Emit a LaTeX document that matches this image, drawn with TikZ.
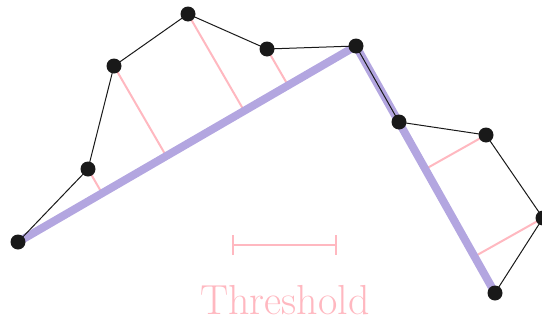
\documentclass[tikz,border=0pt]{standalone}
\usepackage{tikz}
\usetikzlibrary{calc, arrows.meta}
\definecolor{mypink}{HTML}{FFB8C0}
\definecolor{mypurple}{HTML}{B3A6E0}

\begin{document}
\begin{tikzpicture}[x=0.5pt, y=-0.5pt,
    dot/.style={circle, fill=black!90, inner sep=0pt, minimum size=7.5pt},
    edge/.style={black!90, line width=0.5pt},
    simple/.style={mypurple, line width=4pt},
    dist/.style={mypink, line width=1pt}]
      \useasboundingbox (0,0) rectangle (542,322);

      % polyline points
      \foreach \name/\x/\y in {p1/18/242, p2/88/169, p3/114/66, p4/188/14,
                               p5/267/49, p6/356/46, p7/399/122, p8/486/135,
                               p9/543/218, p10/495/293} {
        \coordinate (\name) at (\x,\y);
      }

      % distances to the simplified segments
      \foreach \p in {p2,p3,p4,p5} {
        \draw[dist] (\p) -- ($(p1)!(\p)!(p6)$);
      }
      \foreach \p in {p8,p9} {
        \draw[dist] (\p) -- ($(p6)!(\p)!(p10)$);
      }

      % simplified line
      \draw[simple] (p1) -- (p6) -- (p10);

      % original line
      \draw[edge] (p1) -- (p2) -- (p3) -- (p4) -- (p5) -- (p6) -- (p7)
                  -- (p8) -- (p9) -- (p10);

      \foreach \p in {p1,p2,p3,p4,p5,p6,p7,p8,p9,p10} {
        \node[dot] (n\p) at (\p) {};
      }

      % threshold
      \coordinate (tl) at (232,245);
      \coordinate (tr) at (337,245);
      \draw[dist, {Bar[width=10pt]}-{Bar[width=10pt]}] (tl) -- (tr);
      \node[text=mypink, font=\fontsize{21}{24}\selectfont] (thr)
        at (285,300) {Threshold};

    \end{tikzpicture}
\end{document}
